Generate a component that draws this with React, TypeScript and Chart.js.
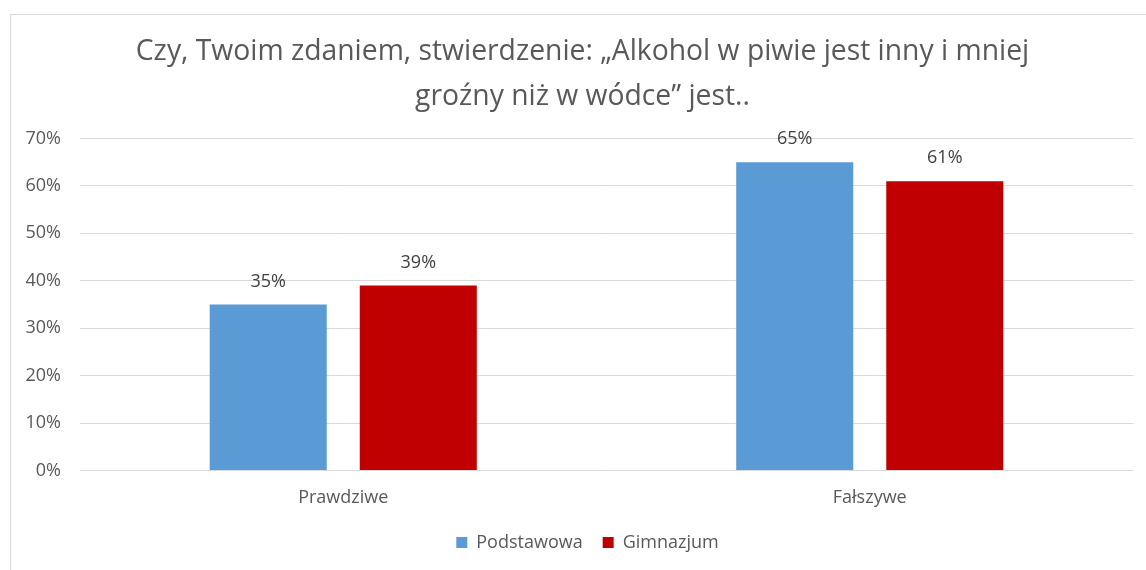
import React, { useEffect, useRef } from "react";
import { Chart, registerables } from "chart.js";

Chart.register(...registerables);

const categories = ["Prawdziwe", "Fałszywe"];
const podstawowa = [35, 65];
const gimnazjum = [39, 61];
const seriesNames = ["Podstawowa", "Gimnazjum"];
const titleLines = [
  "Czy, Twoim zdaniem, stwierdzenie: „Alkohol w piwie jest inny i mniej",
  "groźny niż w wódce” jest..",
];
const yMax = 70;
const yStep = 10;

const FONT = "'Open Sans', sans-serif";

const valueLabels = {
  id: "valueLabels",
  afterLayout(chart: any) {
    const lg = chart.legend;
    if (lg) {
      lg.left += 16;
      lg.right += 16;
    }
    const tb = chart.titleBlock;
    if (tb) {
      tb.left += 11;
      tb.right += 11;
    }
  },
  afterDatasetsDraw(chart: any) {
    const ctx = chart.ctx;
    ctx.save();
    ctx.font = `18px ${FONT}`;
    ctx.fillStyle = "#404040";
    ctx.textAlign = "center";
    ctx.textBaseline = "middle";
    chart.data.datasets.forEach((ds: any, i: number) => {
      const meta = chart.getDatasetMeta(i);
      meta.data.forEach((bar: any, j: number) => {
        ctx.fillText(ds.data[j] + "%", bar.x, bar.y - 23);
      });
    });
    ctx.restore();
  },
};

export default function App() {
  const ref = useRef<HTMLCanvasElement | null>(null);
  useEffect(() => {
    if (!ref.current) return;
    const chart = new Chart(ref.current, {
      type: "bar",
      data: {
        labels: categories,
        datasets: [
          {
            label: seriesNames[0],
            data: podstawowa,
            backgroundColor: "#5B9BD5",
            categoryPercentage: 0.57,
            barPercentage: 0.78,
          },
          {
            label: seriesNames[1],
            data: gimnazjum,
            backgroundColor: "#C00000",
            categoryPercentage: 0.57,
            barPercentage: 0.78,
          },
        ],
      },
      options: {
        responsive: false,
        animation: false,
        layout: { padding: { left: 10, right: 13, top: 29.5, bottom: 8.5 } },
        plugins: {
          title: {
            display: true,
            text: titleLines,
            color: "#595959",
            font: { family: FONT, size: 28.3, weight: "normal", lineHeight: 1.59 },
            padding: { top: 0, bottom: 19 },
          },
          legend: {
            position: "bottom",
            labels: {
              boxWidth: 11,
              boxHeight: 11,
              color: "#595959",
              font: { family: FONT, size: 18 },
              padding: 20,
            },
          },
          tooltip: { enabled: false },
        },
        scales: {
          x: {
            grid: { display: false },
            border: { display: false },
            ticks: { color: "#595959", font: { family: FONT, size: 18 }, padding: 8.5 },
            afterFit: (s: any) => { s.height = 43; },
          },
          y: {
            min: 0,
            max: yMax,
            ticks: {
              stepSize: yStep,
              color: "#595959",
              font: { family: FONT, size: 18 },
              padding: 19,
              callback: (v: any) => v + "%",
            },
            grid: { color: "#D9D9D9", lineWidth: 1, drawTicks: false },
            border: { display: false },
            afterFit: (s: any) => { s.width = 70; },
          },
        },
      },
      plugins: [valueLabels],
    });
    return () => chart.destroy();
  }, []);
  return (
    <div style={{ position: "fixed", left: 0, top: 0, width: 1146, height: 570, background: "#fff", overflow: "hidden" }}>
      <div style={{ position: "absolute", left: 10, top: 14, width: 1200, height: 600, borderLeft: "1px solid #D9D9D9", borderTop: "1px solid #D9D9D9" }} />
      <canvas ref={ref} width={1146} height={570} style={{ position: "absolute", left: 0, top: 0 }} />
    </div>
  );
}
